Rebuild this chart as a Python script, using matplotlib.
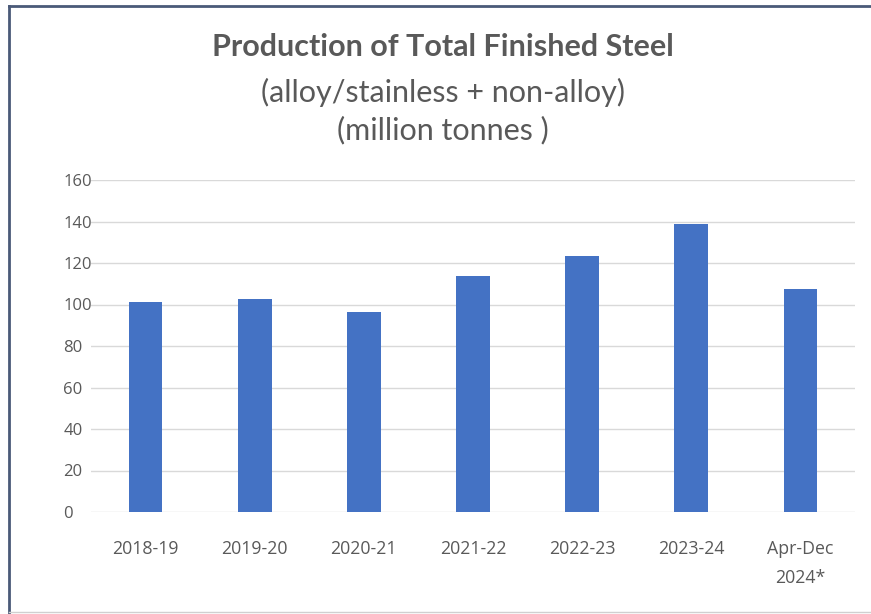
import matplotlib
matplotlib.use("Agg")
import matplotlib.pyplot as plt
from matplotlib.lines import Line2D

categories = ["2018-19", "2019-20", "2020-21", "2021-22", "2022-23", "2023-24", "Apr-Dec\n2024*"]
production = [101.3, 102.6, 96.2, 113.6, 123.2, 138.8, 107.5]
y_ticks = [0, 20, 40, 60, 80, 100, 120, 140, 160]

W, H = 871, 614
fig = plt.figure(figsize=(W / 100, H / 100), dpi=100)
fig.patch.set_facecolor("white")

ax = fig.add_axes([91 / W, 1 - 512 / H, (855 - 91) / W, (512 - 180) / H])
x = list(range(len(categories)))
ax.bar(x, production, width=0.31, color="#4472C4", zorder=3)
ax.set_xlim(-0.5, len(categories) - 0.5)
ax.set_ylim(0, 160)
ax.set_yticks(y_ticks)
ax.set_yticklabels([str(v) for v in y_ticks], fontsize=12, color="#595959", family="Open Sans")
ax.set_xticks(x)
ax.set_xticklabels(categories, fontsize=12.8, color="#595959", family="Open Sans", linespacing=1.8)
ax.tick_params(axis="both", length=0)
ax.tick_params(axis="x", pad=20)
ax.tick_params(axis="y", pad=20)
for lbl in ax.get_yticklabels():
    lbl.set_horizontalalignment("left")
ax.grid(axis="y", color="#d9d9d9", linewidth=1, zorder=0)
for s in ax.spines.values():
    s.set_visible(False)

fig.text(443 / W, 1 - 47 / H, "Production of Total Finished Steel", ha="center", va="center",
         fontsize=22, color="#595959", family="Lato", fontweight="bold")
fig.text(443 / W, 1 - 92 / H, "(alloy/stainless + non-alloy)", ha="center", va="center",
         fontsize=22, color="#595959", family="Lato")
fig.text(443 / W, 1 - 130 / H, "(million tonnes )", ha="center", va="center",
         fontsize=22, color="#595959", family="Lato")

# outer frame: dark top/left edges, faint bottom edge
fig.add_artist(Line2D([8.5 / W, 8.5 / W], [0, 1 - 5.5 / H], transform=fig.transFigure, color="#4a5a78", linewidth=2))
fig.add_artist(Line2D([8.5 / W, 1], [1 - 5.5 / H, 1 - 5.5 / H], transform=fig.transFigure, color="#4a5a78", linewidth=2))
fig.add_artist(Line2D([8.5 / W, 1], [1 - 612 / H, 1 - 612 / H], transform=fig.transFigure, color="#d0d0d0", linewidth=1))

fig.savefig("out.png", dpi=100)
